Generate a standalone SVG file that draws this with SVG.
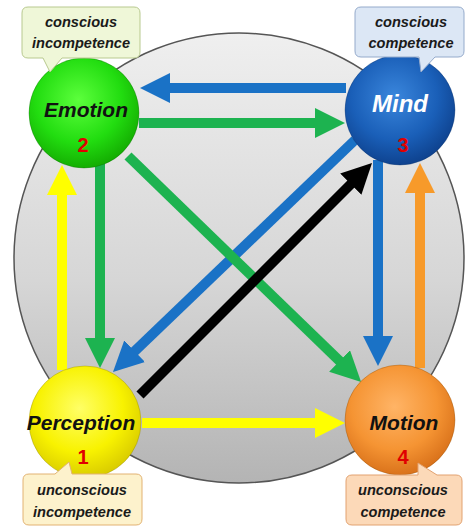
<svg xmlns="http://www.w3.org/2000/svg" width="466" height="527" viewBox="0 0 466 527">
<defs>
<linearGradient id="bg" x1="0" y1="0" x2="0" y2="1">
<stop offset="0" stop-color="#efefef"/><stop offset="0.55" stop-color="#d6d6d6"/><stop offset="1" stop-color="#b4b4b4"/>
</linearGradient>
<radialGradient id="gGreen" cx="0.45" cy="0.38" r="0.65"><stop offset="0" stop-color="#5cff3c"/><stop offset="0.6" stop-color="#22dd10"/><stop offset="1" stop-color="#12a800"/></radialGradient>
<radialGradient id="gBlue" cx="0.45" cy="0.38" r="0.65"><stop offset="0" stop-color="#3a86dc"/><stop offset="0.6" stop-color="#1a5fb8"/><stop offset="1" stop-color="#0d3f8a"/></radialGradient>
<radialGradient id="gYellow" cx="0.45" cy="0.38" r="0.65"><stop offset="0" stop-color="#ffff66"/><stop offset="0.6" stop-color="#f8f200"/><stop offset="1" stop-color="#d6c800"/></radialGradient>
<radialGradient id="gOrange" cx="0.45" cy="0.38" r="0.65"><stop offset="0" stop-color="#ffb466"/><stop offset="0.6" stop-color="#f59433"/><stop offset="1" stop-color="#d66e18"/></radialGradient>
<marker id="hBlue" viewBox="0 0 30 30" refX="2" refY="15" markerWidth="30" markerHeight="30" markerUnits="userSpaceOnUse" orient="auto"><path d="M0,0 L30,15 L0,30 Z" fill="#1a72c6"/></marker>
<marker id="hGreen" viewBox="0 0 30 30" refX="2" refY="15" markerWidth="30" markerHeight="30" markerUnits="userSpaceOnUse" orient="auto"><path d="M0,0 L30,15 L0,30 Z" fill="#1db350"/></marker>
<marker id="hYellow" viewBox="0 0 30 30" refX="2" refY="15" markerWidth="30" markerHeight="30" markerUnits="userSpaceOnUse" orient="auto"><path d="M0,0 L30,15 L0,30 Z" fill="#ffff00"/></marker>
<marker id="hOrange" viewBox="0 0 30 30" refX="2" refY="15" markerWidth="30" markerHeight="30" markerUnits="userSpaceOnUse" orient="auto"><path d="M0,0 L30,15 L0,30 Z" fill="#f79a2a"/></marker>
<marker id="hBlack" viewBox="0 0 30 30" refX="2" refY="15" markerWidth="30" markerHeight="30" markerUnits="userSpaceOnUse" orient="auto"><path d="M0,0 L30,15 L0,30 Z" fill="#000000"/></marker>
</defs>
<style>
.arr{fill:none;stroke-width:10;stroke-linecap:butt}
.blue{stroke:#1a72c6;marker-end:url(#hBlue)}
.green{stroke:#1db350;marker-end:url(#hGreen)}
.yellow{stroke:#ffff00;marker-end:url(#hYellow)}
.orange{stroke:#f79a2a;marker-end:url(#hOrange)}
.black{stroke:#000000;marker-end:url(#hBlack)}
.node{stroke-width:1;stroke-opacity:0.35}
.lbl{font-family:"Liberation Sans",Arial,sans-serif;font-weight:bold;font-style:italic;text-anchor:middle}
.name{font-size:21px;fill:#111}
.num{font-size:20px;fill:#e00000;font-style:normal}
.call{font-size:14.6px;fill:#1a1a1a}
.co{stroke-width:1}
</style>
<circle id="background" cx="239" cy="258" r="225" fill="url(#bg)" stroke="#555" stroke-width="1.5"/>
<g id="connectors">
<line class="arr blue" x1="346" y1="88" x2="168" y2="88"/>
<line class="arr green" x1="139" y1="123" x2="317" y2="123"/>
<line class="arr green" x1="100" y1="163" x2="100" y2="340"/>
<line class="arr yellow" x1="62" y1="370" x2="62" y2="193"/>
<line class="arr blue" x1="355" y1="140" x2="133.2" y2="352.6"/>
<line class="arr green" x1="128" y1="156" x2="341" y2="362.4"/>
<line class="arr black" x1="140" y1="395" x2="352.2" y2="182.8"/>
<line class="arr blue" x1="378" y1="160" x2="378" y2="338"/>
<line class="arr orange" x1="420" y1="368" x2="420" y2="191"/>
<line class="arr yellow" x1="142" y1="423" x2="317" y2="423"/>
</g>
<g id="emotion">
<circle class="node" cx="84" cy="113" r="55" fill="url(#gGreen)" stroke="#0a6a00"/>
<text class="lbl name" x="86" y="117">Emotion</text>
<text class="lbl num" x="83" y="152">2</text>
</g>
<g id="mind">
<circle class="node" cx="400" cy="110" r="55" fill="url(#gBlue)" stroke="#08306a"/>
<text class="lbl name" x="400" y="112" style="fill:#ffffff;font-size:24px">Mind</text>
<text class="lbl num" x="403" y="152">3</text>
</g>
<g id="perception">
<circle class="node" cx="85" cy="422" r="56" fill="url(#gYellow)" stroke="#8a8000"/>
<text class="lbl name" x="81" y="430">Perception</text>
<text class="lbl num" x="83" y="464">1</text>
</g>
<g id="motion">
<circle class="node" cx="400" cy="420" r="55" fill="url(#gOrange)" stroke="#904a00"/>
<text class="lbl name" x="404" y="430">Motion</text>
<text class="lbl num" x="403" y="464">4</text>
</g>
<g id="callout-conscious-incompetence">
<path class="co" d="M28,7 H134 Q140,7 140,13 V52 Q140,58 134,58 H62 L50,72 L43,58 H28 Q22,58 22,52 V13 Q22,7 28,7 Z" fill="#eff7d8" stroke="#b8c98f"/>
<text class="lbl call" x="81" y="27">conscious</text>
<text class="lbl call" x="81" y="48">incompetence</text>
</g>
<g id="callout-conscious-competence">
<path class="co" d="M361,7 H458 Q464,7 464,13 V51 Q464,57 458,57 H435 L421,72 L419,57 H361 Q355,57 355,51 V13 Q355,7 361,7 Z" fill="#dce7f5" stroke="#94aacb"/>
<text class="lbl call" x="411" y="27">conscious</text>
<text class="lbl call" x="411" y="48">competence</text>
</g>
<g id="callout-unconscious-incompetence">
<path class="co" d="M29,474 H55 L69,462 L72,474 H136 Q142,474 142,480 V519 Q142,525 136,525 H29 Q23,525 23,519 V480 Q23,474 29,474 Z" fill="#fdf2cc" stroke="#e2b272"/>
<text class="lbl call" x="82" y="495">unconscious</text>
<text class="lbl call" x="82" y="517">incompetence</text>
</g>
<g id="callout-unconscious-competence">
<path class="co" d="M352,475 H418 L418,463 L437,475 H456 Q462,475 462,481 V519 Q462,525 456,525 H352 Q346,525 346,519 V481 Q346,475 352,475 Z" fill="#fcd9b8" stroke="#e2a270"/>
<text class="lbl call" x="403" y="495">unconscious</text>
<text class="lbl call" x="403" y="517">competence</text>
</g>
</svg>
